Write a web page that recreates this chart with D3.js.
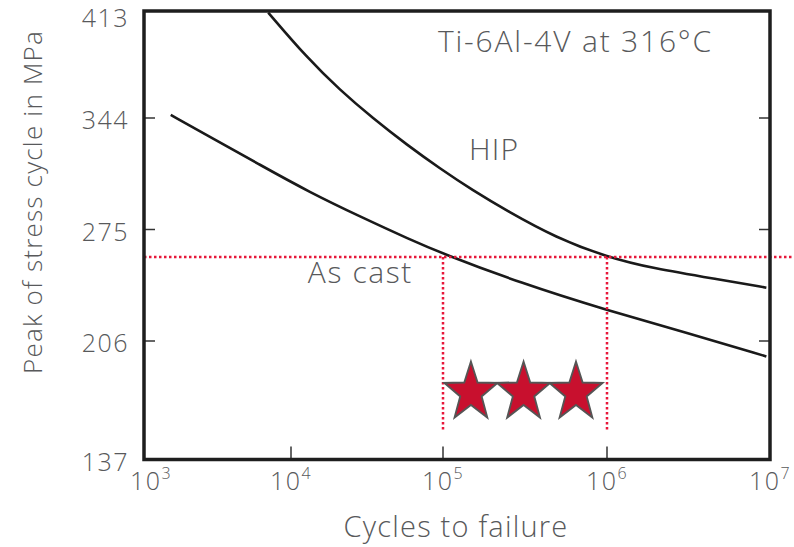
<!DOCTYPE html>
<html>
<head>
<meta charset="utf-8">
<script src="https://cdn.jsdelivr.net/npm/d3@7"></script>
<style>
  body { margin: 0; background: #fff; }
  text { font-family: "Open Sans", Lato, sans-serif; font-weight: 300; fill: #58595b; }
</style>
</head>
<body>
<div id="chart"></div>
<script>
// data
var cycleTicks = [1e3, 1e4, 1e5, 1e6, 1e7];
var tickExponents = ["3", "4", "5", "6", "7"];
var stressTicks = [137, 206, 275, 344, 413];

var asCastCycles = [1520, 2810, 6150, 13300, 28500, 60700, 100000, 295000, 1000000, 3100000, 9500000];
var asCastStress = [346, 332.4, 315, 298, 283, 268.8, 260, 242, 225, 211, 197];

var hipCycles = [7000, 12700, 21000, 34600, 57900, 95600, 152000, 245000, 489000, 1000000, 1900000, 4900000, 9500000];
var hipStress = [412, 383, 362, 343.8, 327.4, 312.7, 299.2, 286.6, 269.9, 258, 251, 244, 239];

var refStress = 258;            // dotted horizontal line
var refCycles = [1e5, 1e6];     // dotted vertical drops
var refDropTo = 153;

var starCycles = [148000, 310000, 647000];
var starStress = 176;

var labels = [
    { text: "Ti-6Al-4V at 316°C", cycles: 92700, stress: 386.4, spacing: 1.8 },
    { text: "HIP", cycles: 144000, stress: 318, spacing: 1.2 },
    { text: "As cast", cycles: 12900, stress: 241.7, spacing: 1.6 }
];

var W = 794, H = 547;
var svg = d3.select("#chart").append("svg")
    .attr("width", W)
    .attr("height", H);

// the original axis is hand drawn, so the decades are not evenly spaced
var x = d3.scaleLog()
    .domain(cycleTicks)
    .range([144, 291, 443, 607, 770]);

var y = d3.scaleLinear()
    .domain(stressTicks)
    .range([459.5, 341, 229.5, 118, 11]);

var line = d3.line()
    .x(function(d) { return x(d[0]); })
    .y(function(d) { return y(d[1]); })
    .curve(d3.curveBasis);

var asCast = d3.zip(asCastCycles, asCastStress);
var hip = d3.zip(hipCycles, hipStress);

[asCast, hip].forEach(function(s) {
    svg.append("path")
        .datum(s)
        .attr("fill", "none")
        .attr("stroke", "#1a1a1a")
        .attr("stroke-width", 2.6)
        .attr("d", line);
});

// red dotted reference lines
var red = "#e8173a";
svg.append("line")
    .attr("x1", x(1e3))
    .attr("x2", W)
    .attr("y1", y(refStress))
    .attr("y2", y(refStress))
    .attr("stroke", red)
    .attr("stroke-width", 2.5)
    .attr("stroke-dasharray", "2.5,2.5");

svg.selectAll(".drop")
    .data(refCycles)
    .enter().append("line")
    .attr("class", "drop")
    .attr("x1", function(d) { return x(d); })
    .attr("x2", function(d) { return x(d); })
    .attr("y1", y(refStress))
    .attr("y2", y(refDropTo))
    .attr("stroke", red)
    .attr("stroke-width", 2.5)
    .attr("stroke-dasharray", "2.5,2.5");

// stars
function starPath(R, r) {
    var pts = [];
    for (var i = 0; i < 10; i++) {
        var a = -Math.PI / 2 + i * Math.PI / 5;
        var rad = i % 2 === 0 ? R : r;
        pts.push([rad * Math.cos(a), rad * Math.sin(a)]);
    }
    return "M" + pts.map(function(p) { return p.join(","); }).join("L") + "Z";
}

svg.selectAll(".star")
    .data(starCycles)
    .enter().append("path")
    .attr("class", "star")
    .attr("d", starPath(31, 12.5))
    .attr("transform", function(d) { return "translate(" + x(d) + "," + y(starStress) + ") scale(0.9,1)"; })
    .attr("fill", "#c8102e")
    .attr("stroke", "#555")
    .attr("stroke-width", 2)
    .attr("stroke-linejoin", "miter");

// inner ticks
var tickColor = "#333";
svg.selectAll(".ytl")
    .data(stressTicks.slice(1, 4))
    .enter().append("line")
    .attr("x1", x(1e3)).attr("x2", x(1e3) + 11)
    .attr("y1", function(d) { return y(d); })
    .attr("y2", function(d) { return y(d); })
    .attr("stroke", tickColor).attr("stroke-width", 1.5);

svg.selectAll(".ytr")
    .data(stressTicks.slice(1, 4))
    .enter().append("line")
    .attr("x1", x(1e7)).attr("x2", x(1e7) - 11)
    .attr("y1", function(d) { return y(d); })
    .attr("y2", function(d) { return y(d); })
    .attr("stroke", tickColor).attr("stroke-width", 1.5);

svg.selectAll(".xt")
    .data(cycleTicks.slice(1, 4))
    .enter().append("line")
    .attr("x1", function(d) { return x(d); })
    .attr("x2", function(d) { return x(d); })
    .attr("y1", y(137)).attr("y2", y(137) - 13)
    .attr("stroke", tickColor).attr("stroke-width", 1.5);

// frame
svg.append("rect")
    .attr("x", x(1e3))
    .attr("y", y(413))
    .attr("width", x(1e7) - x(1e3))
    .attr("height", y(137) - y(413))
    .attr("fill", "none")
    .attr("stroke", "#1e1e1e")
    .attr("stroke-width", 3.5);

// tick labels
svg.selectAll(".ylab")
    .data(stressTicks)
    .enter().append("text")
    .attr("x", x(1e3) - 15)
    .attr("y", function(d) { return y(d); })
    .attr("dy", function(d, i) { return i === 4 ? "0.62em" : "0.45em"; })
    .attr("text-anchor", "end")
    .style("font-size", "25px")
    .style("letter-spacing", "1.5px")
    .text(function(d) { return d; });

var xl = svg.selectAll(".xlab")
    .data(cycleTicks)
    .enter().append("text")
    .attr("x", function(d, i) { return x(d) + (i === 0 ? 7 : 0); })
    .attr("y", 490)
    .attr("text-anchor", "middle")
    .style("font-size", "25px")
    .style("letter-spacing", "1.5px");
xl.append("tspan").text("10");
xl.append("tspan")
    .attr("dy", -11)
    .style("font-size", "16px")
    .text(function(d, i) { return tickExponents[i]; });

// annotations
svg.selectAll(".note")
    .data(labels)
    .enter().append("text")
    .attr("x", function(d) { return x(d.cycles); })
    .attr("y", function(d) { return y(d.stress); })
    .style("font-size", "30px")
    .style("letter-spacing", function(d) { return d.spacing + "px"; })
    .text(function(d) { return d.text; });

// axis titles
svg.append("text")
    .attr("x", 456)
    .attr("y", 537)
    .attr("text-anchor", "middle")
    .style("font-size", "29px")
    .style("letter-spacing", "1.2px")
    .text("Cycles to failure");

svg.append("text")
    .attr("transform", "translate(42,202) rotate(-90)")
    .attr("text-anchor", "middle")
    .style("font-size", "26px")
    .style("letter-spacing", "1.2px")
    .text("Peak of stress cycle in MPa");
</script>
</body>
</html>
